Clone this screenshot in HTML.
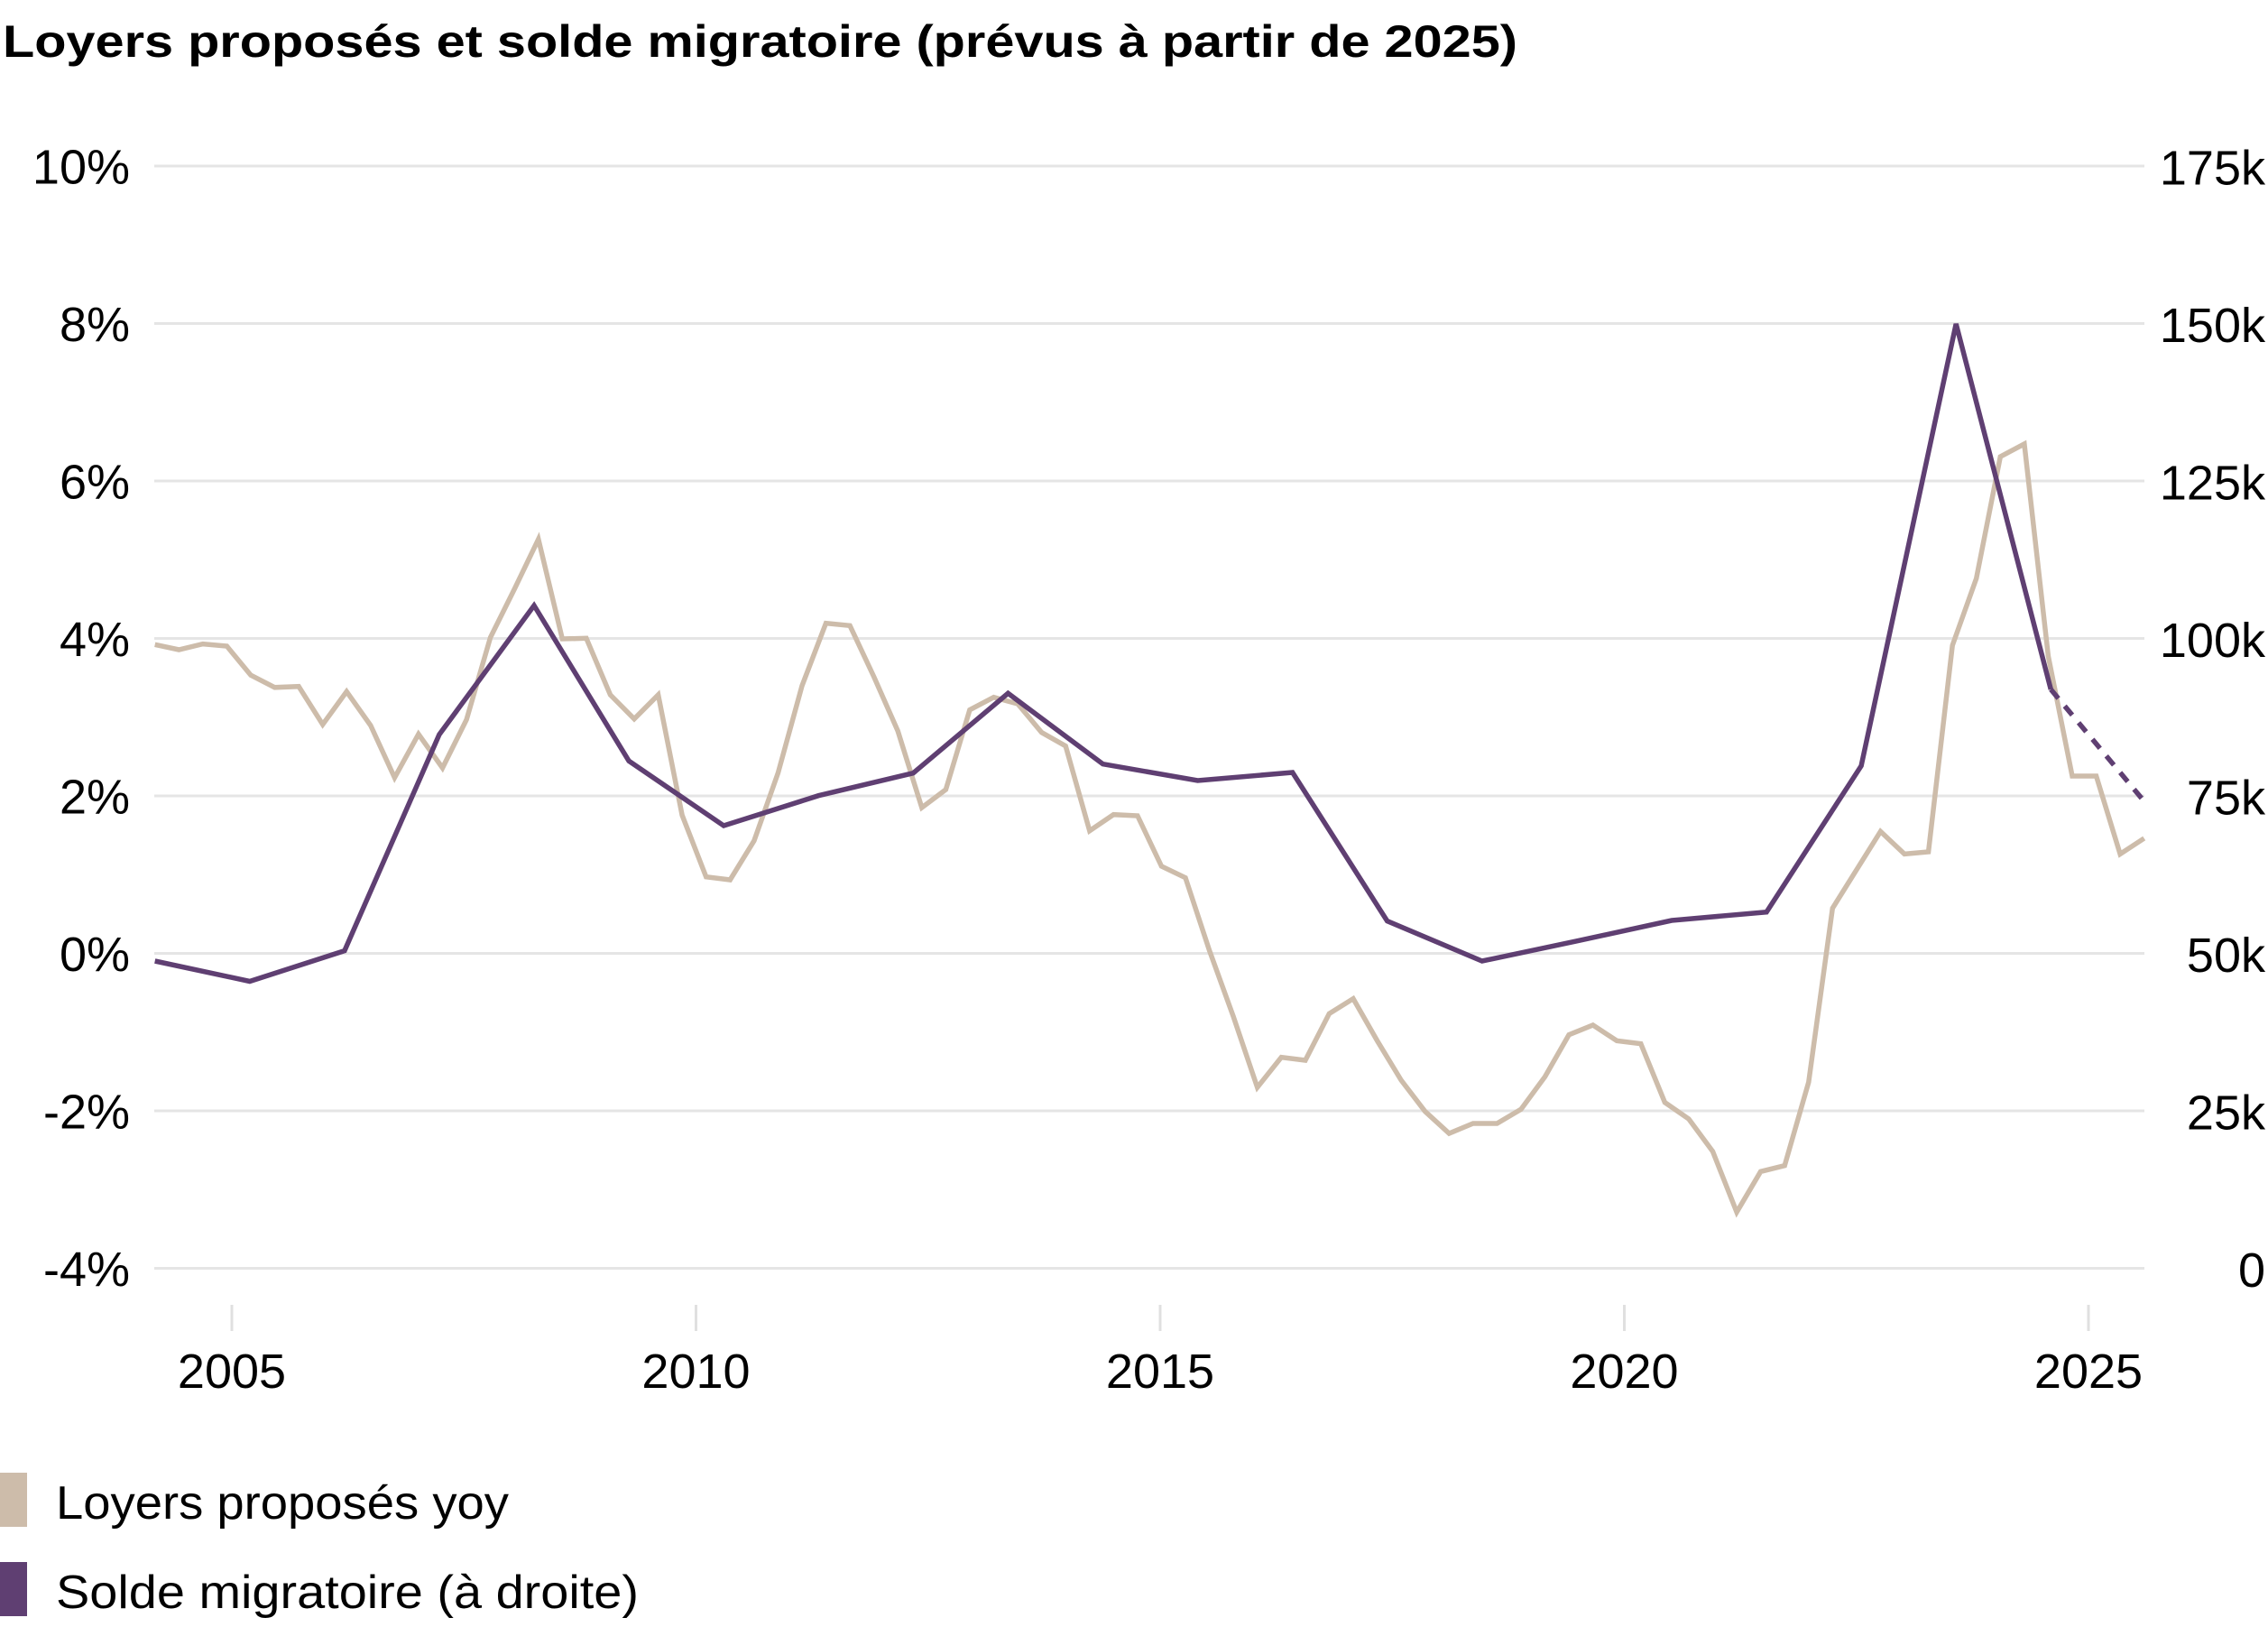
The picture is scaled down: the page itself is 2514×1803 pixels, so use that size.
<!DOCTYPE html>
<html>
<head>
<meta charset="utf-8">
<style>
  html, body { margin: 0; padding: 0; background: #ffffff; }
  svg { display: block; }
  text { font-family: "Liberation Sans", "DejaVu Sans", sans-serif; fill: #000; }
</style>
</head>
<body>
<svg width="2514" height="1803" viewBox="0 0 2514 1803" xmlns="http://www.w3.org/2000/svg">
  <rect x="0" y="0" width="2514" height="1803" fill="#ffffff"/>

  <!-- Title -->
  <text x="3" y="63" font-size="50" font-weight="bold" textLength="1679" lengthAdjust="spacingAndGlyphs">Loyers proposés et solde migratoire (prévus à partir de 2025)</text>

  <!-- Gridlines -->
  <g stroke="#e5e5e5" stroke-width="3">
    <line x1="171" y1="184" x2="2377" y2="184"/>
    <line x1="171" y1="358.5" x2="2377" y2="358.5"/>
    <line x1="171" y1="533" x2="2377" y2="533"/>
    <line x1="171" y1="707.5" x2="2377" y2="707.5"/>
    <line x1="171" y1="882" x2="2377" y2="882"/>
    <line x1="171" y1="1056.5" x2="2377" y2="1056.5"/>
    <line x1="171" y1="1231" x2="2377" y2="1231"/>
    <line x1="171" y1="1405.5" x2="2377" y2="1405.5"/>
  </g>

  <!-- Left axis labels -->
  <g font-size="54" text-anchor="end">
    <text x="144" y="203.5">10%</text>
    <text x="144" y="378">8%</text>
    <text x="144" y="552.5">6%</text>
    <text x="144" y="727">4%</text>
    <text x="144" y="901.5">2%</text>
    <text x="144" y="1076">0%</text>
    <text x="144" y="1250.5">-2%</text>
    <text x="144" y="1425">-4%</text>
  </g>

  <!-- Right axis labels -->
  <g font-size="54" text-anchor="end">
    <text x="2511" y="204.5">175k</text>
    <text x="2511" y="379">150k</text>
    <text x="2511" y="553.5">125k</text>
    <text x="2511" y="728">100k</text>
    <text x="2511" y="902.5">75k</text>
    <text x="2511" y="1077">50k</text>
    <text x="2511" y="1251.5">25k</text>
    <text x="2511" y="1426">0</text>
  </g>

  <!-- X ticks -->
  <g stroke="#e0e0e0" stroke-width="3">
    <line x1="257" y1="1446" x2="257" y2="1475"/>
    <line x1="771.5" y1="1446" x2="771.5" y2="1475"/>
    <line x1="1286" y1="1446" x2="1286" y2="1475"/>
    <line x1="1800.5" y1="1446" x2="1800.5" y2="1475"/>
    <line x1="2315" y1="1446" x2="2315" y2="1475"/>
  </g>

  <!-- X labels -->
  <g font-size="54" text-anchor="middle">
    <text x="257" y="1538">2005</text>
    <text x="771.5" y="1538">2010</text>
    <text x="1286" y="1538">2015</text>
    <text x="1800.5" y="1538">2020</text>
    <text x="2315" y="1538">2025</text>
  </g>

  <!-- Loyers proposés yoy (beige) -->
  <polyline fill="none" stroke="#cdbcaa" stroke-width="5.5" stroke-linejoin="miter" points="
    171.7,714.3 198.3,720 224.8,713.6 251.4,716 278.0,748.2 304.5,761.8 331.1,760.7 357.7,802.9
    384.2,766.4 410.8,803.9 437.4,861.8 463.9,813.6 490.5,851 517.1,797.5 543.6,706.4 570.2,652.9
    596.8,597.5 623.3,708 649.9,707.3 676.5,770 703.0,796.7 729.6,770 756.1,903.3 782.7,971.7
    809.3,975 835.9,931.7 862.4,856.7 889.0,760 915.5,690.7 942.1,693.3 968.7,750 995.2,810
    1021.8,895 1048.4,875 1074.9,786.7 1101.5,772.7 1128.1,780 1154.6,811.7 1181.2,826.7 1207.8,920.7
    1234.3,902.7 1260.9,904 1287.5,960 1314.0,972.7 1340.6,1053.3 1367.2,1126.7 1393.7,1205 1420.3,1171.7
    1446.9,1175 1473.4,1123.3 1500.0,1106.7 1526.6,1153.3 1553.1,1197 1579.7,1231.7 1606.3,1256 1632.8,1245
    1659.4,1245 1686.0,1229.3 1712.5,1193.3 1739.1,1146.7 1765.7,1136 1792.2,1153.3 1818.8,1156.7 1845.4,1221.7
    1871.9,1240 1898.5,1276 1925.1,1343.3 1951.6,1298.3 1978.2,1291.7 2004.8,1199.3 2031.3,1006.5 2057.9,963.9
    2084.5,921.4 2111.0,946.4 2137.6,944 2164.2,715.2 2190.7,641 2217.3,506.1 2243.9,492 2270.4,727
    2297.0,860 2323.6,860 2350.1,946.4 2376.7,929"/>

  <!-- Solde migratoire (purple) -->
  <polyline fill="none" stroke="#5f3f72" stroke-width="5.5" stroke-linejoin="miter" points="
    171.7,1065 276.8,1087.5 381.9,1053.6 486.9,814 592.0,671 697.1,843.3 802.2,915 907.3,881.7
    1012.3,856.7 1117.4,768.3 1222.5,846.7 1327.6,865 1432.7,856 1537.7,1020.7 1642.8,1065 1747.9,1042.8
    1853.0,1020 1958.1,1010.7 2063.1,848.7 2168.2,358.9 2273.3,764"/>
  <line x1="2273.3" y1="764" x2="2378.4" y2="890" stroke="#5f3f72" stroke-width="5.5" stroke-dasharray="13 11"/>

  <!-- Legend -->
  <rect x="0" y="1632" width="30" height="60" fill="#cdbcaa"/>
  <text x="62" y="1683" font-size="52" textLength="502" lengthAdjust="spacingAndGlyphs">Loyers proposés yoy</text>
  <rect x="0" y="1731" width="30" height="60" fill="#5f3f72"/>
  <text x="62" y="1782" font-size="52" textLength="646" lengthAdjust="spacingAndGlyphs">Solde migratoire (à droite)</text>
</svg>
</body>
</html>
